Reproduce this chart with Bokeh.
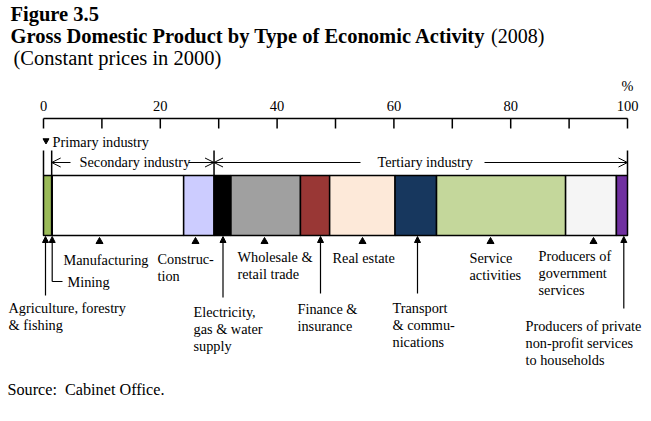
from bokeh.plotting import figure
from bokeh.models import Range1d, Arrow, OpenHead, NormalHead
from bokeh.core.properties import value
from bokeh.embed import file_html
from bokeh.resources import INLINE
import numpy as np

# ---- data ----
activities = ["Agriculture, forestry & fishing", "Mining", "Manufacturing", "Construction",
              "Electricity, gas & water supply", "Wholesale & retail trade",
              "Finance & insurance", "Real estate", "Transport & communications",
              "Service activities", "Producers of government services",
              "Producers of private non-profit services to households"]
shares = [1.4, 0.1, 22.5, 5.2, 2.9, 11.9, 5.0, 11.2, 7.1, 22.1, 8.7, 1.9]
colors = ["#9BBB59", "#FFFFFF", "#FFFFFF", "#CCCCFF", "#000000", "#A0A0A0",
          "#993735", "#FDE9D9", "#17375E", "#C4D79B", "#F5F5F5", "#7030A0"]
industry_sizes = [1, 3, 8]  # primary, secondary, tertiary (number of activities)
ticks = [0, 10, 20, 30, 40, 50, 60, 70, 80, 90, 100]
tick_label_values = [0, 20, 40, 60, 80, 100]
tick_labels = ["0", "20", "40", "60", "80", "100"]

FONT = value("Liberation Serif")
PXW = 5.84  # px per percent
NB = "\u00a0"


def X(px):
    return (px - 43) / PXW


W, H = 645, 415
p = figure(width=W, height=H, output_backend="svg", toolbar_location=None,
           x_range=Range1d(X(0), X(W)), y_range=Range1d(H, 0),
           x_axis_type=None, y_axis_type=None, min_border=0)
p.grid.visible = False
p.outline_line_color = None
p.background_fill_color = "white"


def txt(x, y, s, size="14.3px", style="normal", align="left", baseline="middle"):
    p.text(x=[x], y=[y], text=[s], text_font=FONT, text_font_size=value(size),
           text_font_style=style, text_align=align, text_baseline=baseline,
           text_color="black", text_line_height=1.2)


# ---- titles ----
txt(X(10), 13, "Figure 3.5", size="20.5px", style="bold")
txt(X(10), 35.5, "Gross Domestic Product by Type of Economic Activity", size="20.5px", style="bold")
txt(X(490.5), 35.5, "(2008)", size="20px")
txt(X(13), 57.5, "(Constant prices in 2000)", size="20.5px")

# ---- top axis ----
p.segment(x0=[0], x1=[100], y0=[118], y1=[118], line_color="black", line_width=1.5)
p.segment(x0=ticks, x1=ticks, y0=[118] * len(ticks), y1=[128] * len(ticks),
          line_color="black", line_width=1.5)
p.text(x=tick_label_values, y=[105] * len(tick_labels), text=tick_labels, text_font=FONT,
       text_font_size=value("14.5px"), text_align="center", text_baseline="middle")
txt(100, 85, "%", align="center")

# ---- bars ----
cum = np.cumsum(shares)
left = cum - np.array(shares)
p.quad(left=left, right=cum, top=[175] * len(shares), bottom=[235] * len(shares),
       fill_color=colors, line_color="black", line_width=1.5)

# ---- industry brackets ----
idx = np.cumsum(industry_sizes)
prim_end = cum[idx[0] - 1]
sec_end = cum[idx[1] - 1]
tert_end = cum[idx[2] - 1]

for xv in [0, prim_end, sec_end, tert_end]:
    p.segment(x0=[xv], x1=[xv], y0=[150], y1=[175], line_color="black", line_width=1.5)

p.scatter(x=[X(45.5)], y=[140], marker="inverted_triangle", size=6, color="black")
txt(X(52), 141, "Primary industry")

def oarrow(x0, x1, y):
    p.add_layout(Arrow(x_start=x0, y_start=y, x_end=x1, y_end=y,
                       line_color="black", line_width=1,
                       end=OpenHead(size=9, line_width=1, line_color="black")))

oarrow(X(70), prim_end, 162)
txt(X(79), 161, "Secondary industry")
oarrow(X(188), sec_end, 162)
oarrow(X(360), sec_end, 162)
txt(X(377), 161, "Tertiary industry")
oarrow(X(484), tert_end, 162)

# ---- markers under bar ----
tri_x = [X(99), X(195), X(264), X(362), X(490), X(593)]
p.scatter(x=tri_x, y=[241] * len(tri_x), marker="triangle", size=7, color="black")

def uarrow(xpx, ystart):
    p.add_layout(Arrow(x_start=X(xpx), y_start=ystart, x_end=X(xpx), y_end=236,
                       line_color="black", line_width=1.2,
                       end=NormalHead(size=6, fill_color="black", line_color="black")))

uarrow(45, 295)
uarrow(222.5, 297)
uarrow(320, 293)
uarrow(417, 293)
uarrow(623.3, 308)

# Mining bracket
uarrow(51.7, 281)
p.segment(x0=[X(51.7)], x1=[X(62)], y0=[281], y1=[281], line_color="black", line_width=1.2)

# ---- labels ----
LH = 17
def mtxt(xpx, y, lines, size="14.3px"):
    for i, s in enumerate(lines):
        txt(X(xpx), y + i * LH, s, size=size)

mtxt(63, 259, ["Manufacturing"])
mtxt(67, 281, ["Mining"])
mtxt(157, 258, ["Construc-", "tion"])
mtxt(8, 307, ["Agriculture, forestry", "& fishing"])
mtxt(237, 256.5, ["Wholesale &", "retail trade"])
mtxt(193, 311, ["Electricity,", "gas & water", "supply"])
mtxt(297, 308, ["Finance &", "insurance"])
mtxt(332, 257, ["Real estate"])
mtxt(392, 307, ["Transport", "& commu-", "nications"])
mtxt(469, 257, ["Service", "activities"])
mtxt(538, 255.5, ["Producers of", "government", "services"])
mtxt(525, 325, ["Producers of private", "non-profit services", "to households"])
mtxt(7, 389.5, ["Source:" + NB + NB + "Cabinet Office."], size="16.2px")

open("out.html", "w").write(file_html(p, INLINE))
